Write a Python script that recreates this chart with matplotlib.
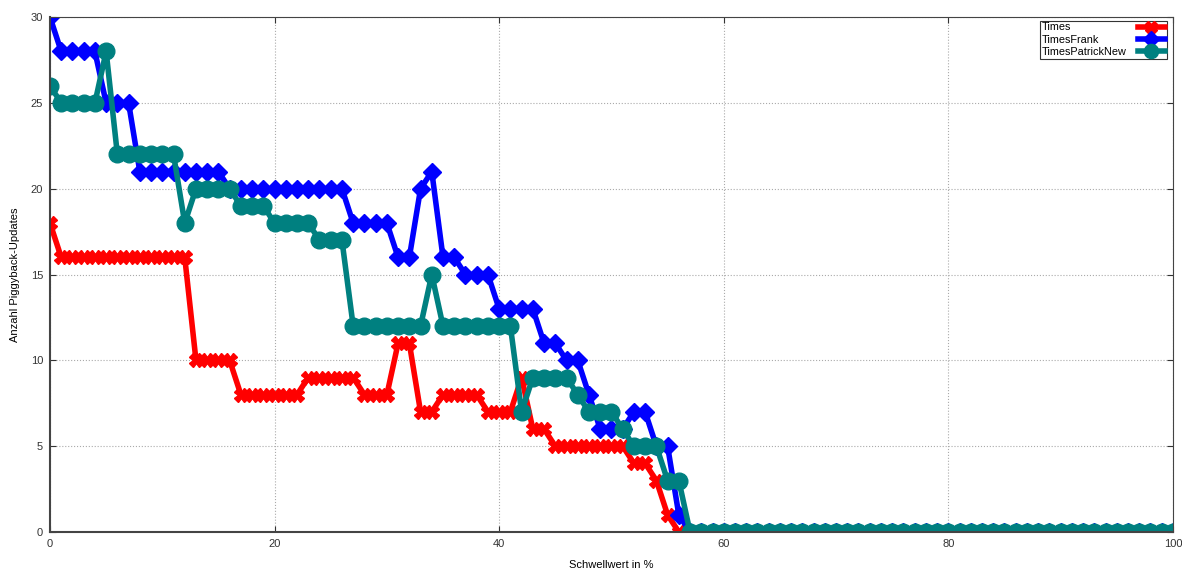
import numpy as np
import matplotlib
matplotlib.use('Agg')
import matplotlib.pyplot as plt

plt.rcParams['font.family'] = 'Liberation Sans'
plt.rcParams['font.size'] = 8

x = list(range(0, 101))

times = ([18] + [16] * 12 + [10] * 4 + [8] * 6 + [9] * 5 + [8] * 3 + [11] * 2
         + [7] * 2 + [8] * 4 + [7] * 3 + [9] + [6] * 2 + [5] * 7 + [4] * 2
         + [3] + [1] + [0] * 45)
times_frank = ([30] + [28] * 4 + [25] * 3 + [21] * 8 + [20] * 11 + [18] * 4
               + [16] * 2 + [20] + [21] + [16] * 2 + [15] * 3 + [13] * 4
               + [11] * 2 + [10] * 2 + [8] + [6] * 3 + [7] * 2 + [5] * 2
               + [1] + [0] * 44)
times_patrick = ([26] + [25] * 4 + [28] + [22] * 6 + [18] + [20] * 4 + [19] * 3
                 + [18] * 4 + [17] * 3 + [12] * 7 + [15] + [12] * 7 + [7]
                 + [9] * 4 + [8] + [7] * 3 + [6] + [5] * 3 + [3] * 2 + [0] * 44)

fig = plt.figure(figsize=(11.82, 5.71), dpi=100)
ax = fig.add_axes([0.0423, 0.0683, 0.9500, 0.9017])

ax.plot(x, times, color='#ff0000', linewidth=4, marker='X', markersize=10,
        label='Times')
ax.plot(x, times_frank, color='#0000ff', linewidth=4, marker='D', markersize=9,
        label='TimesFrank')
ax.plot(x, times_patrick, color='#008080', linewidth=4, marker='o', markersize=12,
        label='TimesPatrickNew')

ax.set_xlim(0, 100)
ax.set_ylim(0, 30)
ax.set_xticks([0, 20, 40, 60, 80, 100])
ax.set_yticks([0, 5, 10, 15, 20, 25, 30])
ax.tick_params(direction='in', length=4, colors='#333333', labelsize=8,
               top=True, right=True, pad=5)
ax.grid(True, color='#aaaaaa', linestyle=':', linewidth=0.8)
for s in ['left', 'bottom']:
    ax.spines[s].set_color('#444444')
    ax.spines[s].set_linewidth(1.5)
for s in ['top', 'right']:
    ax.spines[s].set_color('#444444')
    ax.spines[s].set_linewidth(0.8)

ax.set_xlabel('Schwellwert in %', fontsize=8, labelpad=8)
ax.set_ylabel('Anzahl Piggyback-Updates', fontsize=8, labelpad=8)

leg = ax.legend(loc='upper right', bbox_to_anchor=(0.9944, 0.9928),
                borderaxespad=0, markerfirst=False, fancybox=False,
                framealpha=1, edgecolor='#333333', borderpad=0.15,
                labelspacing=0.22, handlelength=2.5, handletextpad=1,
                markerscale=0.85, fontsize=7.8)
leg.get_frame().set_linewidth(0.8)

# left-align the labels, keep the line samples on the right
for col in leg._legend_handle_box.get_children():
    col.align = 'left'
    for row in col.get_children():
        row.mode = 'expand'
        row.width = 123

fig.savefig('out.png', dpi=100)
